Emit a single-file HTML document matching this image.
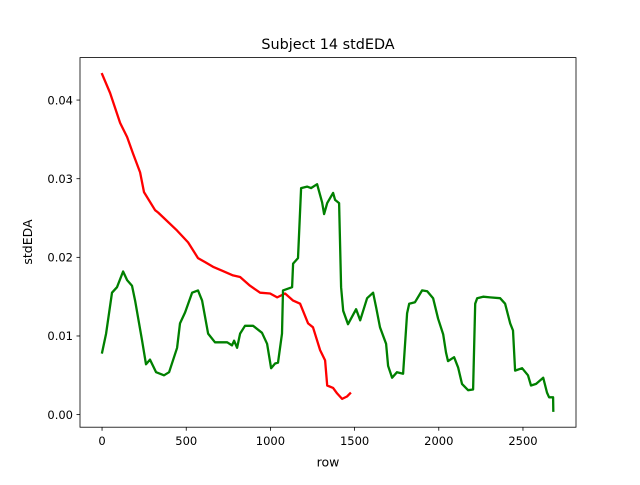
<!DOCTYPE html>
<html><head><meta charset="utf-8"><style>
body{margin:0;background:#fff;}
svg text{font-family:"DejaVu Sans","Liberation Sans",sans-serif;fill:#000;}
</style></head><body>
<svg id="chart" width="640" height="480" xmlns="http://www.w3.org/2000/svg">
<rect width="640" height="480" fill="#fff"/>
<text x="328" y="49" font-size="14.4" text-anchor="middle">Subject 14 stdEDA</text>
<g id="plot"></g>
<rect x="80" y="57.6" width="496" height="369.6" fill="none" stroke="#000" stroke-width="0.8"/>
<text x="328" y="466.5" font-size="12.5" text-anchor="middle">row</text>
<text x="32" y="242" font-size="12.5" text-anchor="middle" transform="rotate(-90 32 242)">stdEDA</text>
</svg>
<script>
const redRows=[0,48,107,149,184,226,249,315,333,446,511,570,612,659,713,778,820,879,939,998,1040,1087,1135,1176,1224,1253,1295,1325,1337,1372,1396,1426,1455,1473];
const redVals=[0.0433,0.0409,0.0371,0.0353,0.0332,0.0308,0.0283,0.0260,0.0257,0.0234,0.0219,0.0199,0.0194,0.0188,0.0183,0.0177,0.0175,0.0164,0.0155,0.0154,0.0149,0.0154,0.0145,0.0141,0.0116,0.0111,0.0082,0.0069,0.0037,0.0034,0.0027,0.0020,0.0023,0.0027];
const greenRows=[0,24,59,89,125,149,178,196,238,261,285,321,368,398,446,463,493,535,570,594,630,671,743,772,784,802,820,849,897,950,980,1004,1028,1045,1069,1075,1129,1135,1164,1182,1218,1241,1277,1307,1319,1337,1372,1384,1408,1420,1432,1461,1509,1533,1574,1610,1628,1651,1687,1699,1723,1752,1788,1812,1824,1859,1901,1931,1966,1996,2026,2043,2055,2091,2115,2138,2174,2204,2216,2228,2263,2305,2364,2394,2424,2441,2453,2495,2530,2548,2578,2620,2643,2655,2679,2680];
const greenVals=[0.0079,0.0103,0.0155,0.0162,0.0182,0.0171,0.0164,0.0145,0.0094,0.0064,0.0070,0.0054,0.0050,0.0054,0.0085,0.0116,0.0130,0.0155,0.0158,0.0145,0.0103,0.0092,0.0092,0.0088,0.0094,0.0085,0.0103,0.0113,0.0113,0.0104,0.0090,0.0059,0.0065,0.0066,0.0103,0.0158,0.0162,0.0192,0.0199,0.0288,0.0290,0.0288,0.0293,0.0270,0.0255,0.0269,0.0282,0.0273,0.0269,0.0162,0.0132,0.0115,0.0134,0.0120,0.0148,0.0155,0.0136,0.0111,0.0090,0.0062,0.0047,0.0054,0.0052,0.0129,0.0141,0.0143,0.0158,0.0157,0.0148,0.0122,0.0102,0.0079,0.0068,0.0073,0.0060,0.0039,0.0031,0.0032,0.0141,0.0148,0.0150,0.0149,0.0148,0.0141,0.0116,0.0107,0.0056,0.0059,0.0050,0.0037,0.0039,0.0047,0.0028,0.0022,0.0022,0.0005];
const xTicks=[0,500,1000,1500,2000,2500];
const yTicks=[0,0.01,0.02,0.03,0.04];
const yTickLabels=["0.00","0.01","0.02","0.03","0.04"];

const X0=80,X1=576,Y0=427.2,Y1=57.6;
const xmin=-131,xmax=2815,ymin=-0.0016,ymax=0.0454;
const sx=v=>X0+(v-xmin)/(xmax-xmin)*(X1-X0);
const sy=v=>Y0-(v-ymin)/(ymax-ymin)*(Y0-Y1);
const NS="http://www.w3.org/2000/svg";
const g=document.getElementById('plot');
function mk(t,a){const e=document.createElementNS(NS,t);for(const k in a)e.setAttribute(k,a[k]);g.appendChild(e);return e;}
function line(rows,vals,color,name){
  const d=rows.map((r,i)=>(i?'L':'M')+sx(r).toFixed(1)+','+sy(vals[i]).toFixed(1)).join('');
  const p=mk('path',{d:d,fill:'none',stroke:color,'stroke-width':2.3,'stroke-linejoin':'round','stroke-linecap':'square'});
  
  
}
line(redRows,redVals,'#ff0000','red-series');
line(greenRows,greenVals,'#008000','green-series');
xTicks.forEach(t=>{
  const x=sx(t);
  const l=mk('line',{x1:x,x2:x,y1:Y0,y2:Y0+3.5,stroke:'#000','stroke-width':0.8});
  
  
  const tx=mk('text',{x:x,y:Y0+18,'font-size':11.5,'text-anchor':'middle'});
  tx.textContent=t;
  
  
});
yTicks.forEach((t,i)=>{
  const y=sy(t);
  const l=mk('line',{x1:X0-3.5,x2:X0,y1:y,y2:y,stroke:'#000','stroke-width':0.8});
  
  
  const tx=mk('text',{x:X0-7,y:y+4.2,'font-size':11.5,'text-anchor':'end'});
  tx.textContent=yTickLabels[i];
  
  
});
</script>
</body></html>
